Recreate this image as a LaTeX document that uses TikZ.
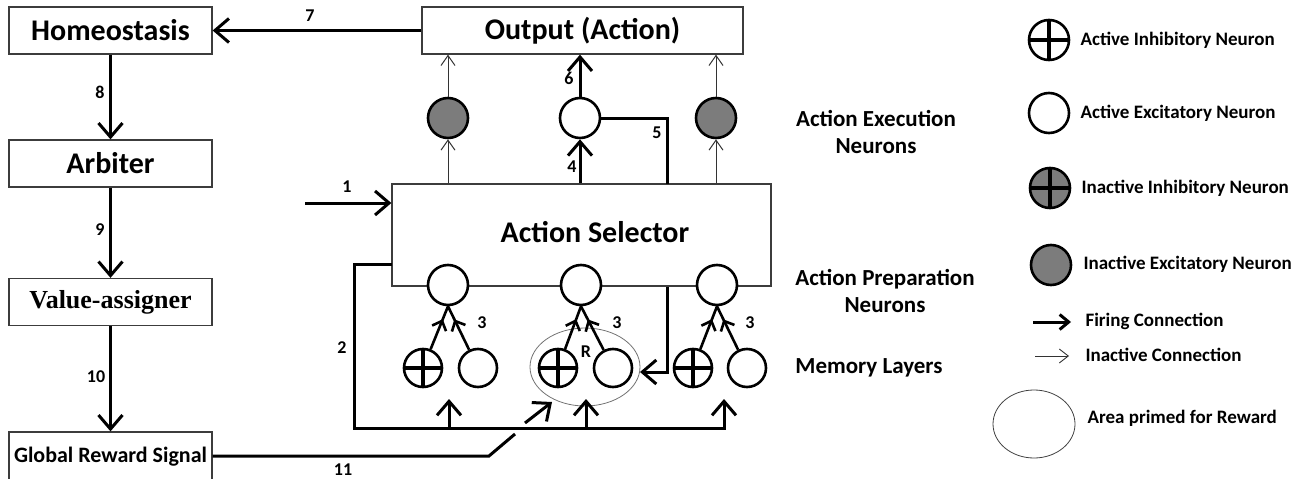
\documentclass[tikz,border=0pt]{standalone}
\usepackage{fontspec}
\setmainfont{Carlito}
\newfontfamily\serifbold{Liberation Serif}
\usetikzlibrary{arrows.meta,decorations.markings,shapes.geometric}
\definecolor{neurongray}{RGB}{124,124,124}
\definecolor{boxline}{RGB}{60,60,60}

\tikzset{
  blockbox/.style={draw=boxline, line width=1.3pt, minimum width=203pt, minimum height=47pt, inner sep=0pt, font=\fontsize{30}{32}\selectfont\bfseries},
  excit/.style={circle, draw, line width=2.6pt, fill=white, minimum size=40pt, inner sep=0pt},
  inactexcit/.style={excit, fill=neurongray},
  memexcit/.style={excit, minimum size=38pt},
  inhib/.style={memexcit, path picture={\draw[line width=4pt] (path picture bounding box.north) -- (path picture bounding box.south) (path picture bounding box.west) -- (path picture bounding box.east);}},
  fire/.style={line width=3pt, -{Straight Barb[length=14pt,width=24pt,line width=3pt]}},
  idle/.style={line width=1pt, draw=black!80, -{Straight Barb[length=10pt,width=14pt,line width=1pt]}},
  midfire/.style={line width=2.6pt, postaction={decorate}, decoration={markings, mark=at position 0.7 with {\arrow{Straight Barb[length=8pt,width=15pt,line width=2.6pt]}}}},
  numlbl/.style={font=\fontsize{18}{20}\selectfont\bfseries},
  sidelbl/.style={font=\fontsize{23}{27}\selectfont\bfseries, align=center},
  keylbl/.style={font=\fontsize{19}{21}\selectfont\bfseries, anchor=west},
}

\begin{document}
\begin{tikzpicture}[x=1pt,y=-1pt]
\useasboundingbox (0,0) rectangle (1299,479);

% Left column
\node[blockbox] (homeo) at (110.5,30.5) {Homeostasis};
\node[blockbox] (arbiter) at (110.5,163.5) {Arbiter};
\node[blockbox, font=\fontsize{26}{28}\selectfont\serifbold\bfseries] (value) at (110.5,302) {Value-assigner};
\node[blockbox, minimum height=50pt, font=\fontsize{22}{24}\selectfont\bfseries] (reward) at (110.5,457) {Global Reward Signal};

% Output and selector
\node[blockbox, minimum width=321pt] (output) at (582.5,30.5) {Output (Action)};
\node[blockbox, minimum width=379pt, minimum height=102pt] (selector) at (581.5,235) {};
\node[font=\fontsize{30}{32}\selectfont\bfseries] (seltext) at (595,232) {Action Selector};

% Area primed for reward
\node[ellipse, draw=black!55, line width=0.8pt, minimum width=110pt, minimum height=78pt] (rarea) at (585,367) {};

% Execution neurons
\node[inactexcit] (exA) at (448,118) {};
\node[excit] (exB) at (580,118) {};
\node[inactexcit] (exC) at (716,118) {};

% Preparation neurons
\node[excit] (prA) at (448,285) {};
\node[excit] (prB) at (581,285) {};
\node[excit] (prC) at (717,285) {};

% Memory layers
\node[inhib] (inA) at (423,368) {};
\node[memexcit] (mmA) at (478,368) {};
\node[inhib] (inB) at (558,368) {};
\node[memexcit] (mmB) at (613,368) {};
\node[inhib] (inC) at (693,368) {};
\node[memexcit] (mmC) at (747,368) {};

% Left chain
\draw[fire] (output.west) -- (homeo.east);
\draw[fire] (homeo) -- (arbiter);
\draw[fire] (arbiter) -- (value);
\draw[fire] (value) -- (reward);

% Input 1
\coordinate (in1) at (305,203);
\draw[fire] (in1) -- (in1 -| selector.west);

% Selector to execution to output
\draw[idle] (selector.north -| exA) -- (exA);
\draw[idle] (exA) -- (exA |- output.south);
\draw[idle] (selector.north -| exC) -- (exC);
\draw[idle] (exC) -- (exC |- output.south);
\draw[fire] (selector.north -| exB) -- (exB);
\draw[fire] (exB) -- (exB |- output.south);

% Feedback 5
\coordinate (fbA) at (667,184);
\coordinate (fbB) at (667,287);
\coordinate (fbC) at (667,372);
\draw[line width=3pt] (exB.east) -| (fbA);
\draw[fire] (fbB) -- (fbC) -- (640,372);

% Memory to preparation
\foreach \g in {A,B,C} {
  \draw[midfire] (in\g) -- (pr\g.south);
  \draw[midfire] (mm\g) -- (pr\g.south);
}

% Bus 2
\coordinate (sel2) at (392,264);
\coordinate (busL) at (354,428);
\coordinate (busR) at (724,428);
\coordinate (upC) at (724,399);
\draw[fire] (sel2) -| (busL) -- (busR) -- (upC);
\draw[fire] (449,428) -- (449,399);
\draw[fire] (586,428) -- (586,399);

% Reward line 11
\coordinate (rw1) at (489,456);
\coordinate (rw2) at (515,434);
\coordinate (rw3) at (525,423);
\coordinate (rw4) at (552,402);
\draw[line width=3pt] (reward.east |- rw1) -- (rw1) -- (rw2);
\draw[fire] (rw3) -- (rw4);

% Numbers
\node[numlbl] at (347,187) {1};
\node[numlbl] at (342,348) {2};
\node[numlbl] at (482,323) {3};
\node[numlbl] at (617,323) {3};
\node[numlbl] at (750,323) {3};
\node[numlbl] at (572,167) {4};
\node[numlbl] at (657,133) {5};
\node[numlbl] at (569,78) {6};
\node[numlbl] at (310,16) {7};
\node[numlbl] at (100,92) {8};
\node[numlbl] at (100,230) {9};
\node[numlbl] at (96,377) {10};
\node[numlbl] at (343,470) {11};
\node[numlbl] at (586,352) {R};

% Side labels
\node[sidelbl] at (876,132) {Action Execution\\Neurons};
\node[sidelbl] at (885,291) {Action Preparation\\Neurons};
\node[sidelbl] at (869,368) {Memory Layers};

% Legend
\node[inhib, minimum size=40pt] (keyA) at (1049,40) {};
\node[keylbl] at (1077,40) {Active Inhibitory Neuron};
\node[excit] (keyB) at (1049,113) {};
\node[keylbl] at (1077,113) {Active Excitatory Neuron};
\node[inhib, minimum size=40pt, fill=neurongray] (keyC) at (1050,188) {};
\node[keylbl] at (1078,188) {Inactive Inhibitory Neuron};
\node[inactexcit] (keyD) at (1051,265) {};
\node[keylbl] at (1080,264) {Inactive Excitatory Neuron};
\coordinate (keyF1) at (1033,322);
\coordinate (keyF2) at (1071,322);
\draw[line width=3pt, -{Straight Barb[length=9pt,width=15pt,line width=3pt]}] (keyF1) -- (keyF2);
\node[keylbl] at (1082,321) {Firing Connection};
\coordinate (keyI1) at (1035,356);
\coordinate (keyI2) at (1069,356);
\draw[line width=0.9pt, draw=black!80, -{Straight Barb[length=9pt,width=14pt,line width=0.9pt]}] (keyI1) -- (keyI2);
\node[keylbl] at (1082,355) {Inactive Connection};
\node[ellipse, draw=black!75, line width=0.8pt, minimum width=82pt, minimum height=68pt] (keyE) at (1034,424) {};
\node[keylbl] at (1084,418) {Area primed for Reward};
\end{tikzpicture}
\end{document}
